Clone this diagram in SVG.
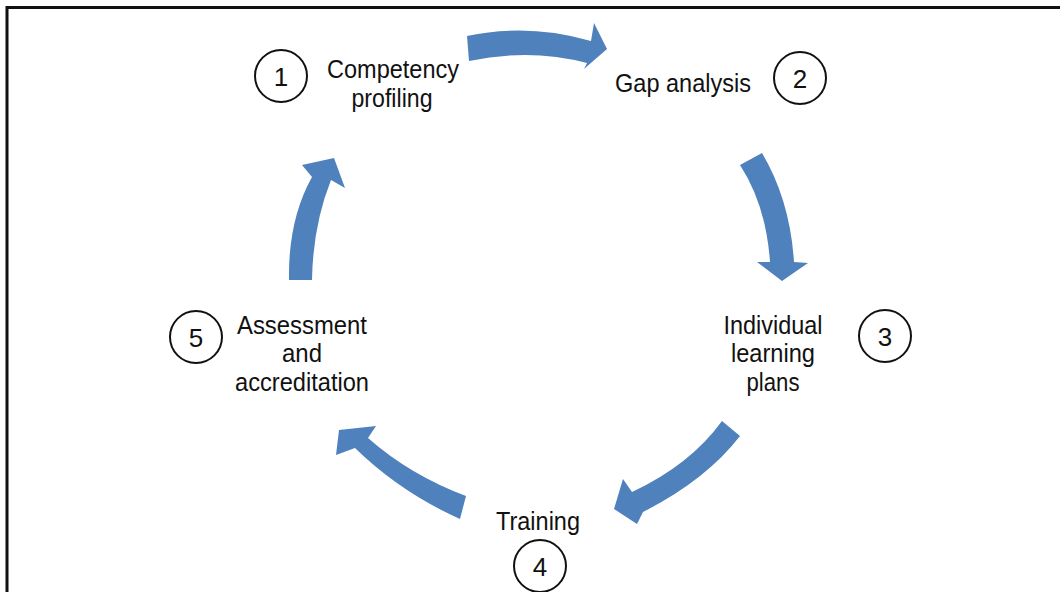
<svg xmlns="http://www.w3.org/2000/svg" width="1060" height="592" viewBox="0 0 1060 592">
<style>
.lbl{font-family:"Liberation Sans",Arial,sans-serif;font-size:26px;fill:#111;text-anchor:middle}
.num{font-family:"Liberation Sans",Arial,sans-serif;font-size:26px;fill:#111;text-anchor:middle}
.ring{fill:#fff;stroke:#111;stroke-width:2}
.arr{fill:#4F81BD}
</style>
<rect x="0" y="0" width="1060" height="592" fill="#fff"/>
<rect x="7" y="7.5" width="1070" height="600" fill="none" stroke="#111" stroke-width="3"/>
<g id="connectors">
<path class="arr" d="M467,36 Q528,23 591,41 L594,23 L607,49 L584,69 L587,63 Q530,48 469,61 Z"/>
<path class="arr" d="M740,165 Q766,205 770,262 L757,262 L782,281 L808,263 L794,262 Q790,200 762,153 Z"/>
<path class="arr" d="M722,421 Q690,465 632,492 L623,479 L614,509 L637,524 L643,512 Q706,480 740,436 Z"/>
<path class="arr" d="M466,496 Q410,475 368,438 L376,426 L339,430 L336,455 L355,448 Q400,492 460,519 Z"/>
<path class="arr" d="M289,280 Q288,220 312,177 L302,165 L334,158 L345,188 L331,180 Q313,225 312,280 Z"/>
</g>
<g id="node1">
<circle class="ring" cx="281" cy="76" r="26"/>
<text class="num" x="281" y="86">1</text>
<text class="lbl" x="393" y="78" textLength="132" lengthAdjust="spacingAndGlyphs">Competency</text>
<text class="lbl" x="392" y="107" textLength="81" lengthAdjust="spacingAndGlyphs">profiling</text>
</g>
<g id="node2">
<circle class="ring" cx="800" cy="78" r="26"/>
<text class="num" x="800" y="88">2</text>
<text class="lbl" x="683" y="92" textLength="136" lengthAdjust="spacingAndGlyphs">Gap analysis</text>
</g>
<g id="node3">
<circle class="ring" cx="885" cy="336" r="26"/>
<text class="num" x="885" y="346">3</text>
<text class="lbl" x="773" y="334" textLength="99" lengthAdjust="spacingAndGlyphs">Individual</text>
<text class="lbl" x="773" y="362" textLength="84" lengthAdjust="spacingAndGlyphs">learning</text>
<text class="lbl" x="773" y="391" textLength="53" lengthAdjust="spacingAndGlyphs">plans</text>
</g>
<g id="node4">
<circle class="ring" cx="540" cy="566" r="26"/>
<text class="num" x="540" y="576">4</text>
<text class="lbl" x="538" y="530" textLength="84" lengthAdjust="spacingAndGlyphs">Training</text>
</g>
<g id="node5">
<circle class="ring" cx="196" cy="337" r="26"/>
<text class="num" x="196" y="347">5</text>
<text class="lbl" x="302" y="334" textLength="130" lengthAdjust="spacingAndGlyphs">Assessment</text>
<text class="lbl" x="302" y="362" textLength="40" lengthAdjust="spacingAndGlyphs">and</text>
<text class="lbl" x="302" y="391" textLength="134" lengthAdjust="spacingAndGlyphs">accreditation</text>
</g>
</svg>
